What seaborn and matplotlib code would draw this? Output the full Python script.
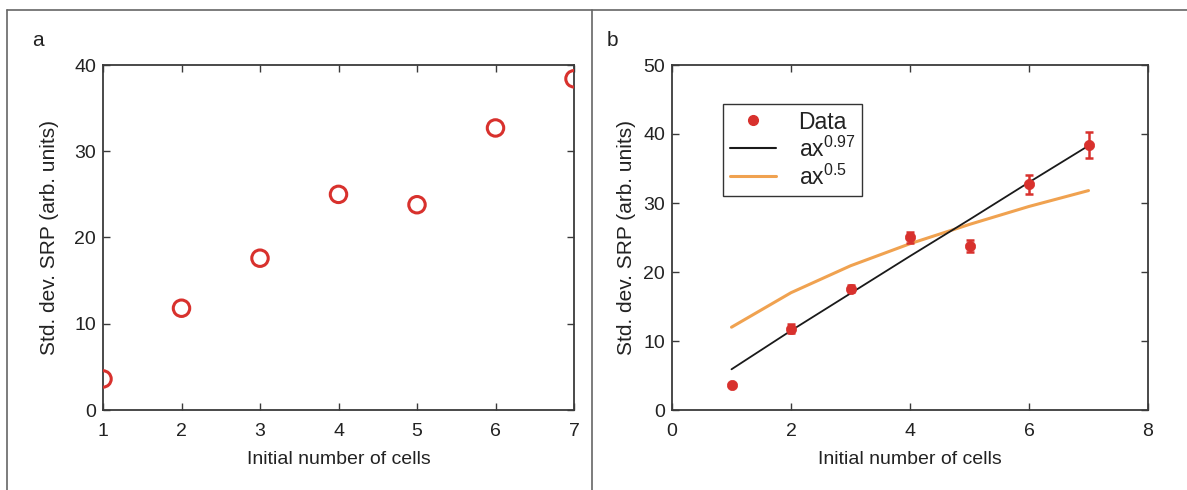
import numpy as np
import pandas as pd
import matplotlib
matplotlib.use("Agg")
import matplotlib.pyplot as plt
from matplotlib.lines import Line2D
import seaborn as sns

# ---- data ----
cells = [1, 2, 3, 4, 5, 6, 7]
std_srp = [3.6, 11.8, 17.6, 25.0, 23.8, 32.7, 38.4]
std_err = [0.3, 0.7, 0.5, 0.8, 0.9, 1.4, 1.9]
fit_097 = [5.9, 11.5, 16.9, 22.3, 27.6, 33.0, 38.3]
fit_05 = [12.0, 17.0, 20.9, 24.1, 26.9, 29.5, 31.8]

xlabel = "Initial number of cells"
ylabel = "Std. dev. SRP (arb. units)"

RED = "#d8312d"
ORANGE = "#f0a250"
SPINE = "#3a3a3a"
TXT = "#222222"

sns.set_theme(style="white")
plt.rcParams["font.family"] = ["Liberation Sans", "DejaVu Sans"]
plt.rcParams["mathtext.default"] = "regular"

fig = plt.figure(figsize=(11.87, 4.90), dpi=100)
W, H = 1187, 490

def px_axes(l, t, r, b):
    return fig.add_axes([l / W, 1 - b / H, (r - l) / W, (b - t) / H])

ax_a = px_axes(103, 65, 574, 410)
ax_b = px_axes(672, 65, 1148, 410)

df = pd.DataFrame({"cells": cells, "std": std_srp, "err": std_err,
                   "f097": fit_097, "f05": fit_05})

# Panel a
sns.scatterplot(data=df, x="cells", y="std", ax=ax_a, marker="o", s=140,
                facecolors="none", edgecolor=RED, linewidth=2.2, zorder=3)
ax_a.set_xlim(1, 7)
ax_a.set_ylim(0, 40)
ax_a.set_xticks([1, 2, 3, 4, 5, 6, 7])
ax_a.set_yticks([0, 10, 20, 30, 40])

# Panel b
sns.lineplot(data=df, x="cells", y="f05", ax=ax_b, color=ORANGE, lw=2.2, zorder=2)
sns.lineplot(data=df, x="cells", y="f097", ax=ax_b, color="#1a1a1a", lw=1.3, zorder=2)
ax_b.errorbar(df["cells"], df["std"], yerr=df["err"], fmt="none", ecolor=RED,
              elinewidth=1.8, capsize=3.0, capthick=1.8, zorder=3)
sns.scatterplot(data=df, x="cells", y="std", ax=ax_b, color=RED, s=55,
                edgecolor=RED, linewidth=0.5, zorder=4)
ax_b.set_xlim(0, 8)
ax_b.set_ylim(0, 50)
ax_b.set_xticks([0, 2, 4, 6, 8])
ax_b.set_yticks([0, 10, 20, 30, 40, 50])

handles = [
    Line2D([], [], marker="o", ls="none", color=RED, markersize=7),
    Line2D([], [], color="#1a1a1a", lw=1.5),
    Line2D([], [], color=ORANGE, lw=2.2),
]
labels = ["Data", r"ax$^{0.97}$", r"ax$^{0.5}$"]
leg = ax_b.legend(handles, labels, loc="upper left", bbox_to_anchor=(0.107, 0.888),
                  fontsize=16.5, frameon=True, fancybox=False, framealpha=1,
                  edgecolor="#333333", borderpad=0.3, labelspacing=0.12,
                  handlelength=2.0, handletextpad=1.0, borderaxespad=0)
leg.get_frame().set_linewidth(1.0)
for t in leg.get_texts():
    t.set_color(TXT)

for ax, lp in ((ax_a, 11), (ax_b, 5)):
    ax.set_xlabel(xlabel, fontsize=14, color=TXT, labelpad=8)
    ax.set_ylabel(ylabel, fontsize=15, color=TXT, labelpad=lp)
    ax.tick_params(direction="in", length=5, width=1, color=SPINE,
                   top=True, right=True, bottom=True, left=True,
                   labelsize=14, labelcolor=TXT, pad=5)
    ax.tick_params(axis="x", pad=9)
    for sp in ax.spines.values():
        sp.set_visible(True)
        sp.set_color(SPINE)
        sp.set_linewidth(1.3)

# panel letters
fig.text(32 / W, 1 - 41 / H, "a", fontsize=15, color=TXT, va="center")
fig.text(607 / W, 1 - 41 / H, "b", fontsize=15, color=TXT, va="center")

# outer frame lines
frame_kw = dict(color="#666666", lw=1.2, transform=fig.transFigure)
fig.add_artist(Line2D([7 / W, 1], [1 - 10 / H, 1 - 10 / H], **frame_kw))
fig.add_artist(Line2D([7 / W, 7 / W], [0, 1 - 10 / H], **frame_kw))
fig.add_artist(Line2D([592 / W, 592 / W], [0, 1 - 10 / H], **frame_kw))

fig.savefig("out.png", dpi=100, facecolor="white")
